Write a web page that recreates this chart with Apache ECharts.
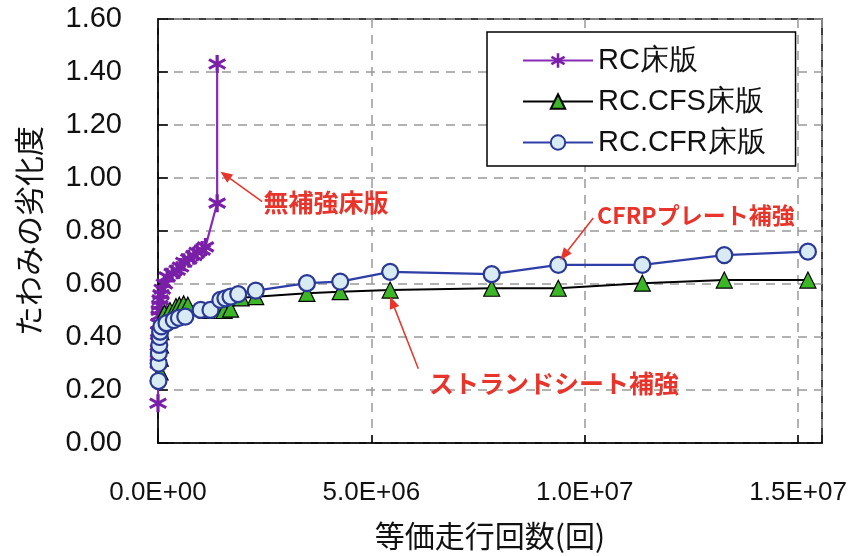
<!DOCTYPE html>
<html>
<head>
<meta charset="utf-8">
<script src="https://cdn.jsdelivr.net/npm/echarts@6/dist/echarts.min.js"></script>
<style>html,body{margin:0;padding:0;background:#fff;}#c{width:860px;height:556px;}</style>
</head>
<body>
<div id="c"></div>
<script>
// ---- data (x: equivalent running cycles, y: deflection deterioration) ----
const seriesNames = ['RC床版', 'RC.CFS床版', 'RC.CFR床版'];
const rcX = [0, 5000, 8000, 12000, 15000, 20000, 25000, 30000, 40000, 50000, 70000, 100000, 150000, 215000, 333000, 450000, 527000, 604000, 721000, 838000, 918000, 1035000, 1112000, 1386000, 1386000];
const rcY = [0.15, 0.30, 0.34, 0.38, 0.42, 0.45, 0.48, 0.50, 0.52, 0.54, 0.56, 0.58, 0.60, 0.627, 0.64, 0.652, 0.664, 0.682, 0.695, 0.707, 0.72, 0.728, 0.74, 0.905, 1.43];
const cfsX = [50000, 55000, 60000, 70000, 90000, 150000, 280000, 420000, 500000, 600000, 700000, 1150000, 1550000, 1700000, 1950000, 2290000, 3490000, 4270000, 5440000, 7820000, 9380000, 11350000, 13270000, 15230000];
const cfsY = [0.268, 0.32, 0.37, 0.42, 0.46, 0.49, 0.50, 0.515, 0.52, 0.525, 0.52, 0.50, 0.50, 0.505, 0.548, 0.552, 0.565, 0.571, 0.577, 0.584, 0.584, 0.603, 0.615, 0.615];
const cfrX = [10000, 15000, 20000, 30000, 40000, 50000, 80000, 200000, 370000, 490000, 640000, 1000000, 1230000, 1460000, 1580000, 1700000, 1880000, 2290000, 3490000, 4270000, 5440000, 7820000, 9380000, 11350000, 13270000, 15230000];
const cfrY = [0.234, 0.30, 0.34, 0.37, 0.40, 0.42, 0.44, 0.452, 0.464, 0.472, 0.477, 0.502, 0.502, 0.54, 0.546, 0.552, 0.562, 0.575, 0.603, 0.609, 0.646, 0.637, 0.672, 0.672, 0.709, 0.722];
const xTicks = [0, 5000000, 10000000, 15000000];
const yTicks = [0, 0.2, 0.4, 0.6, 0.8, 1.0, 1.2, 1.4, 1.6];
// annotations: text, text anchor [x,y], arrow tail [x,y], arrow head [x,y]
const annTexts = ['無補強床版', 'CFRPプレート補強', 'ストランドシート補強'];
const annFontSize = [25, 23, 25];
const annTextAt = [[2470000, 0.906], [10290000, 0.86], [6350000, 0.226]];
const annTail = [[2440000, 0.911], [10200000, 0.849], [6100000, 0.28]];
const annHead = [[1464000, 1.024], [9430000, 0.691], [5440000, 0.552]];

function zip(xs, ys) { return xs.map((x, i) => [x, ys[i]]); }
function fmtE(v) {
  if (v === 0) return '0.0E+00';
  const e = Math.floor(Math.log10(Math.abs(v)));
  const m = v / Math.pow(10, e);
  return m.toFixed(1) + 'E+' + (e < 10 ? '0' + e : e);
}

const asterisk = 'path://M-1.7,-10 L1.7,-10 L1.7,10 L-1.7,10 Z M7.81,-6.47 L9.51,-3.53 L-7.81,6.47 L-9.51,3.53 Z M-9.51,-3.53 L-7.81,-6.47 L9.51,3.53 L7.81,6.47 Z';

const chart = echarts.init(document.getElementById('c'));
const font = 'Liberation Sans, Arial, sans-serif';
const cjk = '"Noto Sans CJK JP", sans-serif';
chart.setOption({
  animation: false,
  backgroundColor: '#fff',
  grid: { left: 158, right: 38, top: 19, bottom: 113, show: true, borderColor: '#000', borderWidth: 1.5, backgroundColor: 'transparent' },
  legend: {
    orient: 'vertical', left: 487, top: 32, align: 'left',
    padding: [14, 30, 9, 35], itemGap: 12, itemWidth: 70, itemHeight: 18,
    backgroundColor: '#fff', borderColor: '#000', borderWidth: 1.5, borderRadius: 0,
    textStyle: { fontSize: 29, color: '#111', fontFamily: font },
    data: seriesNames
  },
  xAxis: {
    type: 'value', min: 0, max: 15560000, interval: 5000000,
    name: '等価走行回数(回)', nameLocation: 'middle', nameGap: 78,
    nameTextStyle: { fontSize: 30, color: '#111', fontFamily: cjk },
    axisLine: { show: true, lineStyle: { color: '#000', width: 1.5 } },
    axisTick: { show: true, inside: true, length: 8, lineStyle: { color: '#000', width: 1.5 } },
    axisLabel: { fontSize: 26, color: '#111', fontFamily: font, margin: 37,
      formatter: v => (xTicks.indexOf(v) >= 0 ? fmtE(v) : '') },
    splitLine: { show: true, lineStyle: { color: '#999', type: [9, 7], width: 1.5 } }
  },
  yAxis: {
    type: 'value', min: 0, max: 1.6, interval: 0.2,
    name: 'たわみの劣化度', nameLocation: 'middle', nameGap: 114,
    nameTextStyle: { fontSize: 30, color: '#111', fontFamily: cjk },
    axisLine: { show: true, lineStyle: { color: '#000', width: 1.5 } },
    axisTick: { show: true, inside: true, length: 10, lineStyle: { color: '#000', width: 1.5 } },
    axisLabel: { fontSize: 29, color: '#111', fontFamily: font, margin: 36,
      formatter: v => (yTicks.some(t => Math.abs(t - v) < 1e-9) ? v.toFixed(2) : '') },
    splitLine: { show: true, lineStyle: { color: '#999', type: [9, 7], width: 1.5 } }
  },
  series: [
    { name: seriesNames[0], type: 'line', data: zip(rcX, rcY), symbol: asterisk, symbolSize: 18,
      lineStyle: { color: '#8a2ab8', width: 2.2 }, itemStyle: { color: '#7a1fa8' }, z: 2 },
    { name: seriesNames[1], type: 'line', data: zip(cfsX, cfsY), symbol: 'triangle', symbolSize: 16,
      lineStyle: { color: '#000', width: 2 }, itemStyle: { color: '#3cb526', borderColor: '#000', borderWidth: 1.2 }, z: 3 },
    { name: seriesNames[2], type: 'line', data: zip(cfrX, cfrY), symbol: 'circle', symbolSize: 16,
      lineStyle: { color: '#2e3ea6', width: 2.2 }, itemStyle: { color: '#d8eaf2', borderColor: '#2a3896', borderWidth: 2.2 }, z: 4 }
  ]
});

// annotations positioned through the chart's own scales
const red = '#e8342a';
const g = [];
for (let i = 0; i < annTexts.length; i++) {
  const t = chart.convertToPixel({ gridIndex: 0 }, annTextAt[i]);
  const a = chart.convertToPixel({ gridIndex: 0 }, annTail[i]);
  const h = chart.convertToPixel({ gridIndex: 0 }, annHead[i]);
  const dx = h[0] - a[0], dy = h[1] - a[1];
  const L = Math.sqrt(dx * dx + dy * dy), ux = dx / L, uy = dy / L;
  const hl = 12, hw = 5;
  const bx = h[0] - ux * hl, by = h[1] - uy * hl;
  g.push({ type: 'line', shape: { x1: a[0], y1: a[1], x2: bx, y2: by }, style: { stroke: red, lineWidth: 1.5 }, z: 100 });
  g.push({ type: 'polygon', shape: { points: [[h[0], h[1]], [bx - uy * hw, by + ux * hw], [bx + uy * hw, by - ux * hw]] }, style: { fill: red }, z: 100 });
  g.push({ type: 'text', x: t[0], y: t[1], style: { text: annTexts[i], fill: red, font: 'bold ' + annFontSize[i] + 'px "Noto Sans CJK JP", sans-serif', verticalAlign: 'middle', align: 'left' }, z: 100 });
}
chart.setOption({ graphic: g });
</script>
</body>
</html>
